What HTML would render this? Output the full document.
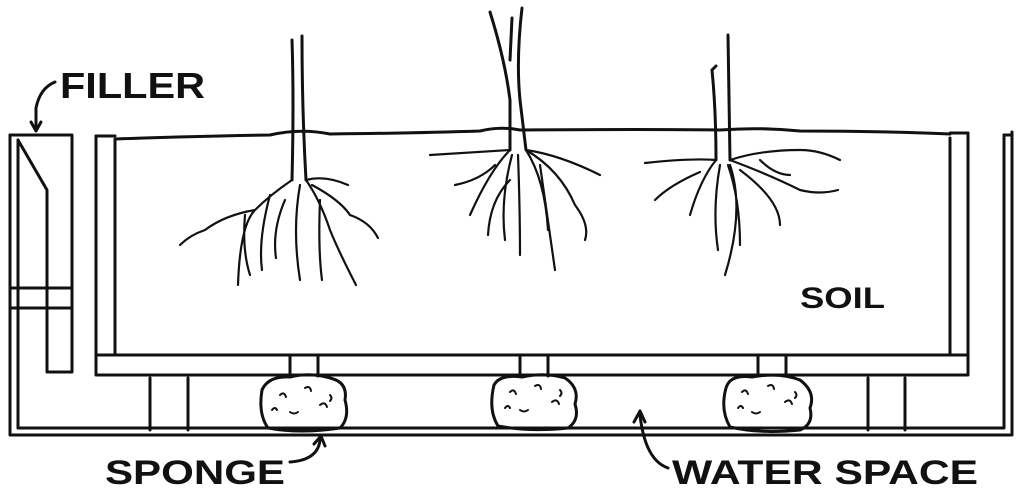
<!DOCTYPE html>
<html><head><meta charset="utf-8"><style>
html,body{margin:0;padding:0;background:#fff;width:1028px;height:493px;overflow:hidden}
text{font-family:"Liberation Sans",sans-serif;font-weight:bold;fill:#111}
</style></head><body>
<svg width="1028" height="493" viewBox="0 0 1028 493" xmlns="http://www.w3.org/2000/svg">
<g fill="none" stroke="#111" stroke-width="3" stroke-linecap="round" stroke-linejoin="round">
<path d="M10 135 V435 H1012 V132"/>
<path d="M18 428 H1004 V135"/>
<path d="M1004 135 H1012"/>
<path d="M10 135 H72 V372 H47 V190 L18 140"/>
<path d="M18 140 V428"/>
<path d="M10 288 H72 M10 308 H72"/>
<path d="M47 288 V308"/>
<path d="M55 82 Q40 88 36 108 L36 130"/>
<path d="M31 122 L36 131 L41 122"/>
<path d="M96 136 V375 H968 V133"/>
<path d="M115 140 V355 H950 V138"/>
<path d="M96 136 H115 M950 133 H968"/>
<path d="M96 355 H115 M950 355 H968"/>
<path d="M115 139 Q200 136 270 135 Q300 128 330 134 Q420 133 480 131 Q500 126 520 130 Q650 129 720 130 Q760 127 800 131 Q880 131 950 134"/>
<path d="M150 378 V430 M188 378 V430 M868 378 V430 M905 378 V430"/>
<path d="M290 355 V376 M318 355 V376 M520 355 V376 M548 355 V376 M758 355 V376 M786 355 V376"/>
<path d="M262 390 Q268 376 290 377 Q310 372 330 378 Q348 382 345 400 Q350 418 340 428 Q300 434 268 428 Q258 414 262 390Z"/>
<path d="M494 385 Q500 374 522 377 Q545 372 565 378 Q580 388 575 404 Q580 420 568 428 Q530 432 498 426 Q488 410 494 385Z"/>
<path d="M726 388 Q730 374 752 377 Q780 372 800 380 Q816 392 810 408 Q814 424 800 430 Q760 434 730 427 Q720 410 726 388Z"/>
<g stroke-width="2">
<path d="M280 395 q4 -4 6 2 M305 388 q5 -3 6 3 M320 405 q5 -4 7 2 M290 412 q4 3 8 0 M272 410 q3 -4 5 0 M330 395 q3 3 0 6"/>
<path d="M510 392 q4 -4 6 2 M535 386 q5 -3 6 3 M552 402 q5 -4 7 2 M520 410 q4 3 8 0 M505 408 q3 -4 5 0 M560 390 q3 3 0 6"/>
<path d="M742 392 q4 -4 6 2 M768 386 q5 -3 6 3 M785 402 q5 -4 7 2 M752 412 q4 3 8 0 M738 408 q3 -4 5 0 M795 392 q3 3 0 6"/>
</g>
<path d="M292 40 Q294 100 292 180 M302 36 Q302 110 306 180"/>
<g stroke-width="2.2">
<path d="M292 180 Q270 195 255 210 Q240 225 238 285 M255 210 Q225 215 205 230 Q190 235 180 245 M270 195 Q258 240 262 270 M300 185 Q292 230 300 280 M306 180 Q320 200 330 230 Q338 250 356 285 M312 185 Q340 200 350 215 Q370 222 378 238 M306 180 Q325 175 348 185 M320 200 Q318 250 322 280 M245 215 Q242 250 250 275 M285 200 Q272 230 276 258"/>
</g>
<path d="M490 12 Q505 60 510 100 L510 150 M522 8 Q516 60 520 100 L526 150 M510 60 L512 18"/>
<g stroke-width="2.2">
<path d="M510 150 Q480 152 430 155 M510 150 Q490 170 470 215 M512 155 Q500 200 505 240 M518 155 Q520 210 520 255 M526 150 Q545 180 548 230 M526 150 Q560 155 600 175 M526 150 Q560 170 575 205 Q590 225 585 240 M495 165 Q480 180 455 185 M540 165 Q545 200 555 270 M510 180 Q490 200 488 235"/>
</g>
<path d="M712 70 Q716 110 716 160 M728 35 L730 160 M712 70 L716 66"/>
<g stroke-width="2.2">
<path d="M716 160 Q690 158 645 163 M716 160 Q700 180 690 215 M720 165 Q712 210 718 250 M728 165 Q740 200 740 245 M730 160 Q760 150 800 150 Q820 150 840 160 M730 160 Q770 175 800 190 Q820 195 838 190 M730 165 Q745 210 725 275 M740 170 Q780 200 780 225 M700 172 Q670 185 655 200 M760 160 Q775 175 790 175"/>
</g>
<path d="M290 462 Q318 460 320 440"/>
<path d="M314 444 L321 436 L325 446"/>
<path d="M668 468 Q645 460 640 415"/>
<path d="M634 422 L640 411 L645 422"/>
</g>
<text x="60" y="98" font-size="36" textLength="145" lengthAdjust="spacingAndGlyphs">FILLER</text>
<text x="800" y="308" font-size="30" textLength="85" lengthAdjust="spacingAndGlyphs">SOIL</text>
<text x="105" y="484" font-size="34" textLength="180" lengthAdjust="spacingAndGlyphs">SPONGE</text>
<text x="672" y="484" font-size="34" textLength="306" lengthAdjust="spacingAndGlyphs">WATER SPACE</text>
</svg>
</body></html>
